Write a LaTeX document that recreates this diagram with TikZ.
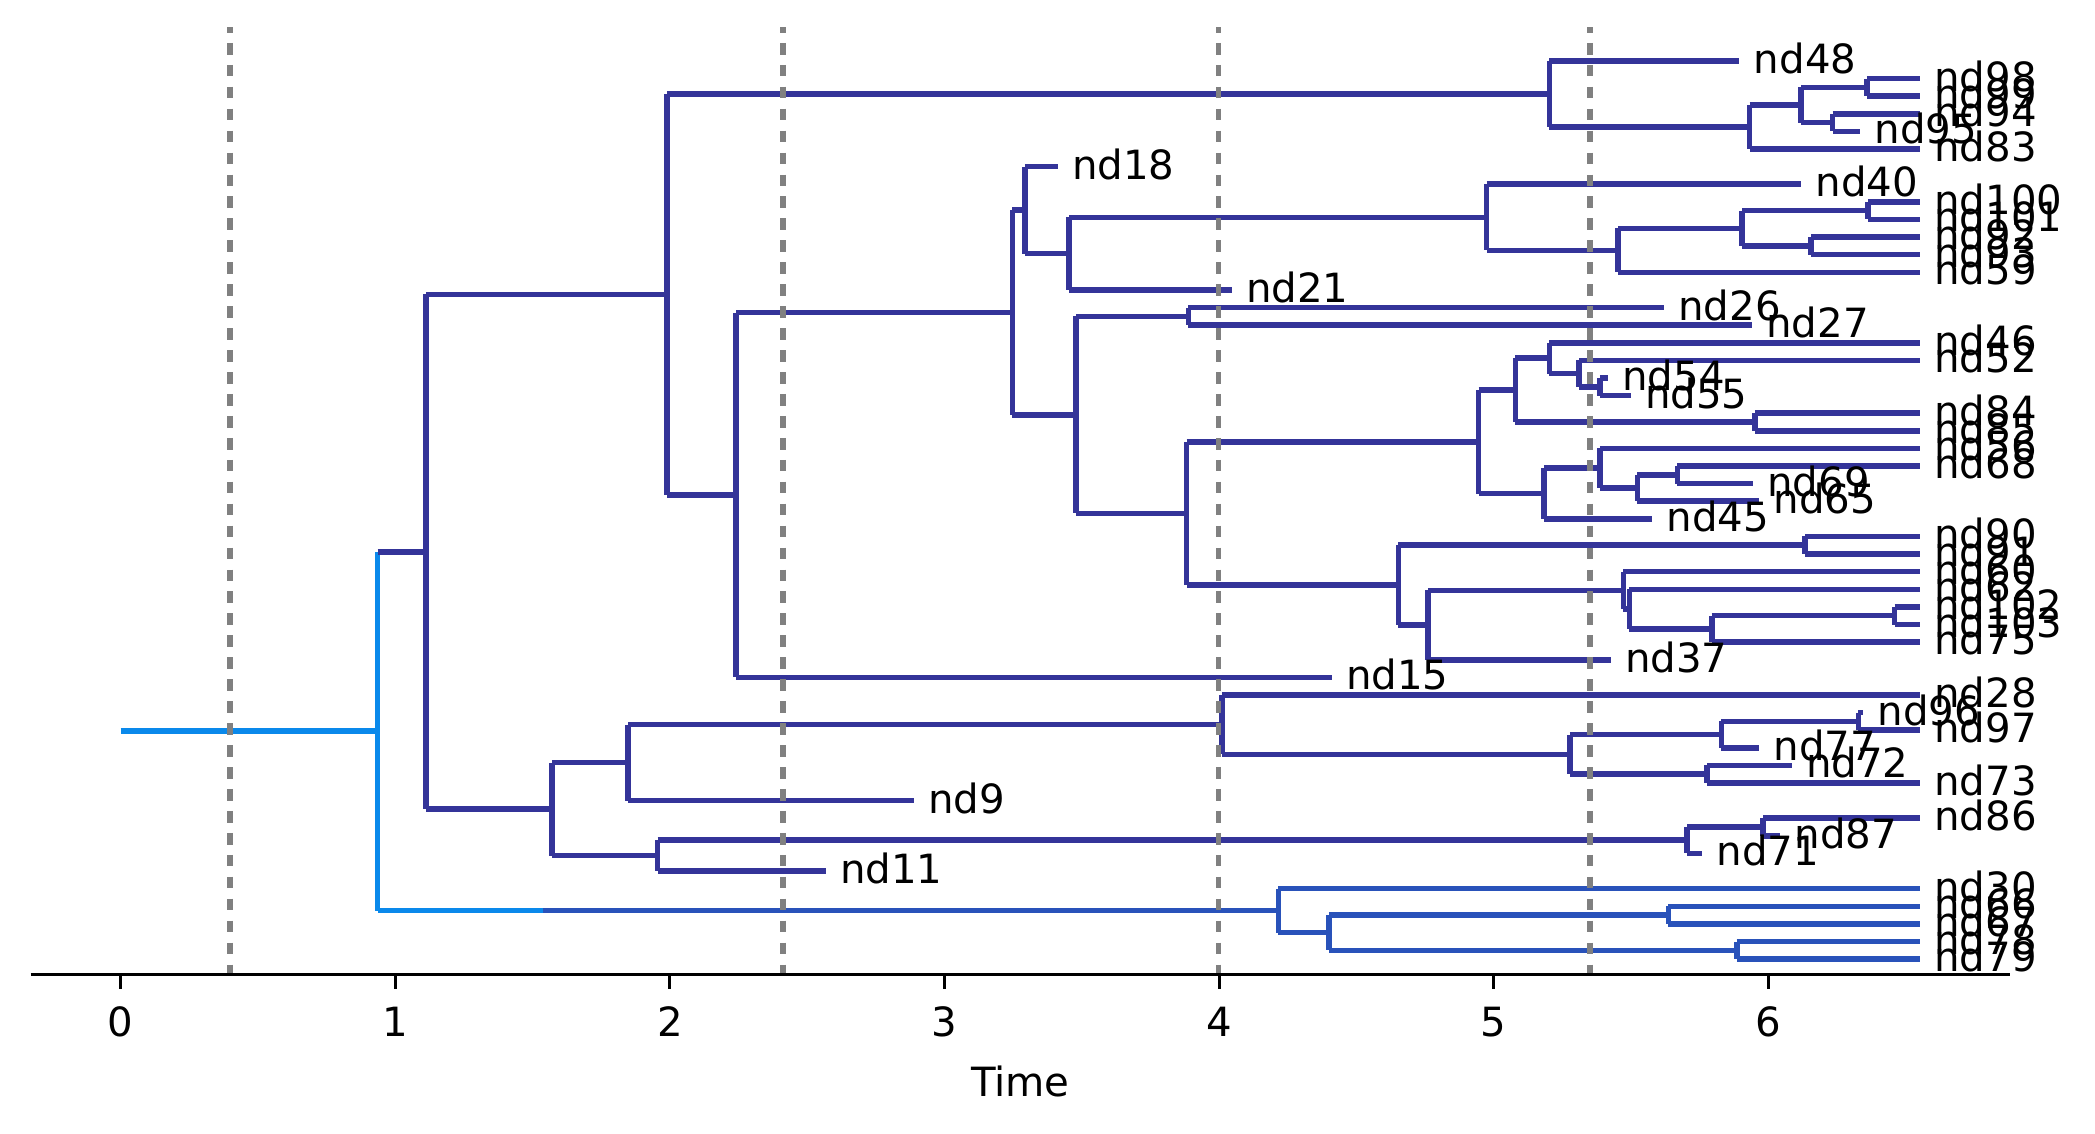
\documentclass[tikz,border=0pt]{standalone}
\usepackage{fontspec}
\setmainfont{DejaVu Sans}
\definecolor{dk}{RGB}{52,52,153}
\definecolor{md}{RGB}{41,82,186}
\definecolor{lt}{RGB}{10,137,235}
\definecolor{gr}{RGB}{128,128,128}
\def\LE{6.552}
\newcommand\lf[3]{\coordinate (#1) at (#2,#3);}
\newcommand\cl[3]{\draw[br] (#1 |- #2) -- (#1 |- #3) (#1 |- #2) -- (#2) (#1 |- #3) -- (#3);}
\begin{document}
\begin{tikzpicture}[x=98.856pt,y=-6.3396pt,
  br/.style={line width=2pt},
  fnt/.style={font=\fontsize{14.5}{17}\selectfont},
  lab/.style={fnt,anchor=base west,inner sep=0pt,xshift=5pt,yshift=-4.5pt},
  dsh/.style={gr,line width=2.1pt,dash pattern=on 4.2pt off 3.7pt,dash phase=2.2pt}]
\useasboundingbox (-0.4395,-3.464) rectangle (7.1898,60.931);
% leaves
\lf{nd48}{5.895}{0}
\lf{nd98}{\LE}{1}
\lf{nd99}{\LE}{2}
\lf{nd94}{\LE}{3}
\lf{nd95}{6.335}{4}
\lf{nd83}{\LE}{5}
\lf{nd18}{3.412}{6}
\lf{nd40}{6.120}{7}
\lf{nd100}{\LE}{8}
\lf{nd101}{\LE}{9}
\lf{nd92}{\LE}{10}
\lf{nd93}{\LE}{11}
\lf{nd59}{\LE}{12}
\lf{nd21}{4.046}{13}
\lf{nd26}{5.620}{14}
\lf{nd27}{5.940}{15}
\lf{nd46}{\LE}{16}
\lf{nd52}{\LE}{17}
\lf{nd54}{5.416}{18}
\lf{nd55}{5.499}{19}
\lf{nd84}{\LE}{20}
\lf{nd85}{\LE}{21}
\lf{nd56}{\LE}{22}
\lf{nd68}{\LE}{23}
\lf{nd69}{5.944}{24}
\lf{nd65}{5.967}{25}
\lf{nd45}{5.578}{26}
\lf{nd90}{\LE}{27}
\lf{nd91}{\LE}{28}
\lf{nd60}{\LE}{29}
\lf{nd62}{\LE}{30}
\lf{nd102}{\LE}{31}
\lf{nd103}{\LE}{32}
\lf{nd75}{\LE}{33}
\lf{nd37}{5.426}{34}
\lf{nd15}{4.410}{35}
\lf{nd28}{\LE}{36}
\lf{nd96}{6.345}{37}
\lf{nd97}{\LE}{38}
\lf{nd77}{5.967}{39}
\lf{nd72}{6.085}{40}
\lf{nd73}{\LE}{41}
\lf{nd9}{2.888}{42}
\lf{nd86}{\LE}{43}
\lf{nd87}{6.044}{44}
\lf{nd71}{5.759}{45}
\lf{nd11}{2.567}{46}
\lf{nd30}{\LE}{47}
\lf{nd66}{\LE}{48}
\lf{nd67}{\LE}{49}
\lf{nd78}{\LE}{50}
\lf{nd79}{\LE}{51}
% internal nodes
\coordinate (r0) at (0,38.06);
\coordinate (root) at (0.936,38.06);
\coordinate (A) at (1.112,27.871);
\coordinate (B) at (1.989,13.2583);
\coordinate (C) at (5.203,1.875);
\coordinate (D) at (5.932,3.75);
\coordinate (E) at (6.120,2.5);
\coordinate (F) at (6.359,1.5);
\coordinate (G) at (6.234,3.5);
\coordinate (H) at (2.241,24.6416);
\coordinate (I) at (3.247,14.2832);
\coordinate (J) at (3.293,8.46875);
\coordinate (K) at (3.454,10.9375);
\coordinate (L) at (4.974,8.875);
\coordinate (M) at (5.453,10.75);
\coordinate (N) at (5.905,9.5);
\coordinate (O) at (6.363,8.5);
\coordinate (P) at (6.155,10.5);
\coordinate (Q) at (3.479,20.0977);
\coordinate (P2) at (3.888,14.5);
\coordinate (Rr) at (3.882,25.6953);
\coordinate (NJ) at (4.945,21.625);
\coordinate (NA) at (5.079,18.6875);
\coordinate (NB) at (5.203,16.875);
\coordinate (NC) at (5.311,17.75);
\coordinate (ND) at (5.387,18.5);
\coordinate (NE) at (5.951,20.5);
\coordinate (NF) at (5.183,24.5625);
\coordinate (NG) at (5.387,23.125);
\coordinate (NH) at (5.523,24.25);
\coordinate (NI) at (5.669,23.5);
\coordinate (NK) at (4.653,29.765625);
\coordinate (Na) at (6.134,27.5);
\coordinate (NL) at (4.760,32.03125);
\coordinate (Al) at (5.472,30.0625);
\coordinate (Be) at (5.494,31.125);
\coordinate (Ga) at (5.794,32.25);
\coordinate (De) at (6.460,31.5);
\coordinate (R) at (1.570,42.484);
\coordinate (S) at (1.848,39.84375);
\coordinate (T) at (4.011,37.6875);
\coordinate (U) at (5.277,39.375);
\coordinate (V) at (5.829,38.25);
\coordinate (W) at (6.328,37.5);
\coordinate (X) at (5.777,40.5);
\coordinate (Y) at (1.955,45.125);
\coordinate (Z) at (5.704,44.25);
\coordinate (Zp) at (5.981,43.5);
\coordinate (AA) at (4.216,48.25);
\coordinate (AB) at (4.400,49.5);
\coordinate (AB1) at (5.636,48.5);
\coordinate (AB2) at (5.885,50.5);
\coordinate (cc) at (1.539,48.25);
% root
\draw[br,lt] (r0) -- (root);
\draw[br,lt] (root |- A) -- (root |- AA);
\draw[br,dk] (root |- A) -- (A);
\draw[br,lt] (root |- AA) -- (cc);
\draw[br,md] (cc) -- (AA);
\begin{scope}[dk]
\cl{A}{B}{R}
\cl{B}{C}{H}
\cl{C}{nd48}{D}
\cl{D}{E}{nd83}
\cl{E}{F}{G}
\cl{F}{nd98}{nd99}
\cl{G}{nd94}{nd95}
\cl{H}{I}{nd15}
\cl{I}{J}{Q}
\cl{J}{nd18}{K}
\cl{K}{L}{nd21}
\cl{L}{nd40}{M}
\cl{M}{N}{nd59}
\cl{N}{O}{P}
\cl{O}{nd100}{nd101}
\cl{P}{nd92}{nd93}
\cl{Q}{P2}{Rr}
\cl{P2}{nd26}{nd27}
\cl{Rr}{NJ}{NK}
\cl{NJ}{NA}{NF}
\cl{NA}{NB}{NE}
\cl{NB}{nd46}{NC}
\cl{NC}{nd52}{ND}
\cl{ND}{nd54}{nd55}
\cl{NE}{nd84}{nd85}
\cl{NF}{NG}{nd45}
\cl{NG}{nd56}{NH}
\cl{NH}{NI}{nd65}
\cl{NI}{nd68}{nd69}
\cl{NK}{Na}{NL}
\cl{Na}{nd90}{nd91}
\cl{NL}{Al}{nd37}
\cl{Al}{nd60}{Be}
\cl{Be}{nd62}{Ga}
\cl{Ga}{De}{nd75}
\cl{De}{nd102}{nd103}
\cl{R}{S}{Y}
\cl{S}{T}{nd9}
\cl{T}{nd28}{U}
\cl{U}{V}{X}
\cl{V}{W}{nd77}
\cl{W}{nd96}{nd97}
\cl{X}{nd72}{nd73}
\cl{Y}{Z}{nd11}
\cl{Z}{Zp}{nd71}
\cl{Zp}{nd86}{nd87}
\end{scope}
\begin{scope}[md]
\cl{AA}{nd30}{AB}
\cl{AB}{AB1}{AB2}
\cl{AB1}{nd66}{nd67}
\cl{AB2}{nd78}{nd79}
\end{scope}
% dashed event lines
\foreach \t in {0.398,2.412,3.998,5.351}
  \draw[dsh] (\t,-1.93) -- (\t,51.863);
% leaf labels
\foreach \n in {48,98,99,94,95,83,18,40,100,101,92,93,59,21,26,27,46,52,54,55,84,85,56,68,69,65,45,90,91,60,62,102,103,75,37,15,28,96,97,77,72,73,9,86,87,71,11,30,66,67,78,79}
  \node[lab] (l\n) at (nd\n) {nd\n};
% axis
\draw[line width=1.2pt] (-0.328,51.863) -- (6.880,51.863);
\foreach \k in {0,...,6}{
  \draw[line width=1.1pt] (\k,51.863) -- ++(0pt,-5.3pt);
  \node[fnt,anchor=base,inner sep=0pt,yshift=-22.5pt] (tk\k) at (\k,51.863) {\k};
}
\node[fnt,anchor=base,inner sep=0pt] (xlab) at (3.276,58.81) {Time};
\end{tikzpicture}
\end{document}
